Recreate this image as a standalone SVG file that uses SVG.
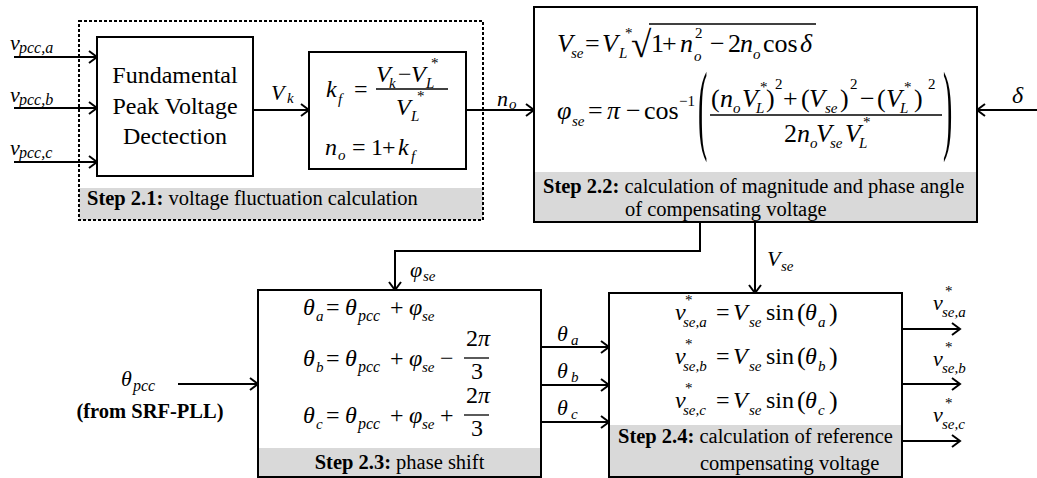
<svg xmlns="http://www.w3.org/2000/svg" width="1037" height="478" viewBox="0 0 1037 478" font-family="'Liberation Serif', 'Times New Roman', serif">
<defs>
<marker id="ah" markerWidth="12" markerHeight="14" refX="10" refY="7" orient="auto" markerUnits="userSpaceOnUse">
<path d="M2,1 L10,7 L2,13" fill="none" stroke="#000" stroke-width="2"/>
</marker>
<style>
text{font-family:'Liberation Serif','Times New Roman',serif;fill:#000}
.i{font-style:italic}
.m{font-size:24px}
.M{font-size:26px}
.s{font-size:15px}
.S{font-size:15px}
.lb{font-size:22px;font-style:italic}
.cap{font-size:20.5px}
.b{font-weight:bold}
.box{fill:#fff;stroke:#000;stroke-width:2}
.foot{fill:#d9d9d9;stroke:none}
.edge{fill:none;stroke:#000;stroke-width:2}
.bar{stroke:#000;stroke-width:1.3}
.big{font-size:100px}
</style>
</defs>
<rect width="1037" height="478" fill="#fff"/>

<g id="connectors">
<line class="edge" x1="14" y1="57" x2="97" y2="57" marker-end="url(#ah)"/>
<line class="edge" x1="14" y1="108" x2="97" y2="108" marker-end="url(#ah)"/>
<line class="edge" x1="14" y1="162" x2="97" y2="162" marker-end="url(#ah)"/>
<line class="edge" x1="253" y1="110" x2="309" y2="110" marker-end="url(#ah)"/>
<line class="edge" x1="466" y1="110" x2="534" y2="110" marker-end="url(#ah)"/>
<line class="edge" x1="1037" y1="110" x2="977" y2="110" marker-end="url(#ah)"/>
<polyline class="edge" points="700,222 700,251 395,251 395,290" marker-end="url(#ah)"/>
<line class="edge" x1="755" y1="222" x2="755" y2="293" marker-end="url(#ah)"/>
<line class="edge" x1="178" y1="384" x2="258" y2="384" marker-end="url(#ah)"/>
<line class="edge" x1="541" y1="347" x2="609" y2="347" marker-end="url(#ah)"/>
<line class="edge" x1="541" y1="385" x2="609" y2="385" marker-end="url(#ah)"/>
<line class="edge" x1="541" y1="422" x2="609" y2="422" marker-end="url(#ah)"/>
<line class="edge" x1="902" y1="329" x2="960" y2="329" marker-end="url(#ah)"/>
<line class="edge" x1="902" y1="384" x2="960" y2="384" marker-end="url(#ah)"/>
<line class="edge" x1="902" y1="441" x2="960" y2="441" marker-end="url(#ah)"/>
<text class="lb" x="10" y="50">v</text><text class="i" style="font-size:16px" x="19" y="53">pcc,a</text>
<text class="lb" x="10" y="102">v</text><text class="i" style="font-size:16px" x="19" y="105">pcc,b</text>
<text class="lb" x="10" y="155">v</text><text class="i" style="font-size:16px" x="19" y="158">pcc,c</text>
<text class="lb" x="271" y="100">V</text><text class="i s" x="287" y="103">k</text>
<text class="lb" x="497" y="106">n</text><text class="i s" x="509" y="109">o</text>
<text class="i m" x="1012" y="103">δ</text>
<text class="lb" x="410" y="277">φ</text><text class="i s" x="423" y="281">se</text>
<text class="lb" x="767" y="266">V</text><text class="i s" x="781" y="271">se</text>
<text class="lb" x="121" y="386">θ</text><text class="i" style="font-size:16px" x="133" y="391">pcc</text>
<text class="cap b" x="150" y="418" text-anchor="middle">(from SRF-PLL)</text>
<text class="lb" x="557" y="341">θ</text><text class="i s" x="571" y="345">a</text>
<text class="lb" x="557" y="378">θ</text><text class="i s" x="571" y="382">b</text>
<text class="lb" x="557" y="415">θ</text><text class="i s" x="571" y="419">c</text>
<text class="lb" x="933" y="310">v</text><text class="s" x="945" y="296">*</text><text class="i s" x="942" y="317">se,a</text>
<text class="lb" x="933" y="366">v</text><text class="s" x="945" y="352">*</text><text class="i s" x="942" y="373">se,b</text>
<text class="lb" x="933" y="422">v</text><text class="s" x="945" y="408">*</text><text class="i s" x="942" y="429">se,c</text>
</g>

<g id="step21">
<rect class="foot" x="79" y="188" width="404" height="32"/>
<rect x="79" y="21" width="404" height="199" fill="none" stroke="#000" stroke-width="2" stroke-dasharray="3 2"/>
<text class="cap" x="87" y="205"><tspan class="b">Step 2.1:</tspan> voltage fluctuation calculation</text>
</g>

<g id="fpvd">
<rect class="box" x="97" y="37" width="156" height="139"/>
<text class="m" x="175" y="83" text-anchor="middle">Fundamental</text>
<text class="m" x="175" y="114" text-anchor="middle">Peak Voltage</text>
<text class="m" x="175" y="144" text-anchor="middle">Dectection</text>
</g>

<g id="kf">
<rect class="box" x="309" y="52" width="157" height="117"/>
<text class="i m" x="326" y="97">k</text><text class="i s" x="338" y="104">f</text>
<text class="m" x="354" y="97">=</text>
<text class="i m" x="376" y="82">V</text><text class="i s" x="389" y="88">k</text>
<text class="m" x="398" y="82">−</text>
<text class="i m" x="411" y="82">V</text><text class="i s" x="426" y="88">L</text><text class="s" x="431" y="68">*</text>
<line class="bar" x1="376" y1="89" x2="448" y2="89"/>
<text class="i m" x="396" y="115">V</text><text class="i s" x="411" y="121">L</text><text class="s" x="417" y="101">*</text>
<text class="i m" x="325" y="155">n</text><text class="i s" x="338" y="160">o</text>
<text class="m" x="352" y="155">=</text>
<text class="m" x="371" y="155">1</text>
<text class="m" x="382" y="155">+</text>
<text class="i m" x="398" y="155">k</text><text class="i s" x="411" y="161">f</text>
</g>

<g id="step22">
<rect class="box" x="534" y="7" width="443" height="215"/>
<rect class="foot" x="535" y="172" width="441" height="49"/>
<line x1="534" y1="222" x2="977" y2="222" stroke="#000" stroke-width="2"/>
<text class="cap" x="543" y="193"><tspan class="b">Step 2.2:</tspan> calculation of magnitude and phase angle</text>
<text class="cap" x="625" y="216">of compensating voltage</text>
<text class="i M" x="557" y="52">V</text><text class="i S" x="571" y="58">se</text>
<text class="M" x="585" y="52">=</text>
<text class="i M" x="602" y="52">V</text><text class="i S" x="619" y="58">L</text><text class="S" x="625" y="38">*</text>
<text class="M" x="631" y="57" style="font-size:37px">√</text>
<line class="bar" x1="649" y1="24" x2="816" y2="24"/>
<text class="M" x="651" y="52">1</text>
<text class="M" x="662" y="52">+</text>
<text class="i M" x="680" y="52">n</text><text class="S" x="695" y="38">2</text><text class="i S" x="694" y="61">o</text>
<text class="M" x="710" y="52">−</text>
<text class="M" x="728" y="52">2</text>
<text class="i M" x="740" y="52">n</text><text class="i S" x="753" y="59">o</text>
<text class="M" x="763" y="52">cos</text>
<text class="i M" x="800" y="52">δ</text>
<text class="i M" x="557" y="119">φ</text><text class="i S" x="572" y="126">se</text>
<text class="M" x="588" y="119">=</text>
<text class="i M" x="607" y="119">π</text>
<text class="M" x="626" y="119">−</text>
<text class="M" x="644" y="119">cos</text><text class="S" x="679" y="106">−1</text>
<text class="big" transform="translate(698,141) scale(0.28,1)">(</text>
<text class="M" x="711" y="107">(</text>
<text class="i M" x="720" y="107">n</text><text class="i S" x="733" y="113">o</text>
<text class="i M" x="742" y="107">V</text><text class="i S" x="756" y="113">L</text><text class="S" x="760" y="92">*</text>
<text class="M" x="766" y="107">)</text><text class="S" x="775" y="89">2</text>
<text class="M" x="783" y="107">+</text>
<text class="M" x="801" y="107">(</text>
<text class="i M" x="809" y="107">V</text><text class="i S" x="825" y="113">se</text>
<text class="M" x="840" y="107">)</text><text class="S" x="850" y="89">2</text>
<text class="M" x="860" y="107">−</text>
<text class="M" x="877" y="107">(</text>
<text class="i M" x="886" y="107">V</text><text class="i S" x="900" y="113">L</text><text class="S" x="904" y="92">*</text>
<text class="M" x="914" y="107">)</text><text class="S" x="928" y="89">2</text>
<line class="bar" x1="710" y1="115" x2="942" y2="115"/>
<text class="M" x="784" y="142">2</text>
<text class="i M" x="797" y="142">n</text><text class="i S" x="810" y="148">o</text>
<text class="i M" x="816" y="142">V</text><text class="i S" x="830" y="148">se</text>
<text class="i M" x="845" y="142">V</text><text class="i S" x="859" y="148">L</text><text class="S" x="863" y="127">*</text>
<text class="big" transform="translate(943,141) scale(0.28,1)">)</text>
</g>

<g id="step23">
<rect class="box" x="258" y="290" width="283" height="187"/>
<rect class="foot" x="259" y="448" width="281" height="28"/>
<text class="cap" x="399.5" y="469" text-anchor="middle"><tspan class="b">Step 2.3:</tspan> phase shift</text>
<text class="i m" x="303" y="315">θ</text><text class="i s" x="316" y="321">a</text>
<text class="m" x="326" y="315">=</text>
<text class="i m" x="345" y="315">θ</text><text class="i" style="font-size:16px" x="358" y="321">pcc</text>
<text class="m" x="390" y="315">+</text>
<text class="i m" x="409" y="315">φ</text><text class="i s" x="422" y="321">se</text>
<text class="i m" x="303" y="366">θ</text><text class="i s" x="316" y="372">b</text>
<text class="m" x="326" y="366">=</text>
<text class="i m" x="345" y="366">θ</text><text class="i" style="font-size:16px" x="358" y="372">pcc</text>
<text class="m" x="390" y="366">+</text>
<text class="i m" x="409" y="366">φ</text><text class="i s" x="422" y="372">se</text>
<text class="m" x="440" y="366">−</text>
<text class="m" x="466" y="346">2<tspan class="i">π</tspan></text>
<line class="bar" x1="464" y1="358" x2="489" y2="358"/>
<text class="m" x="471" y="379">3</text>
<text class="i m" x="303" y="423">θ</text><text class="i s" x="316" y="429">c</text>
<text class="m" x="326" y="423">=</text>
<text class="i m" x="345" y="423">θ</text><text class="i" style="font-size:16px" x="358" y="429">pcc</text>
<text class="m" x="390" y="423">+</text>
<text class="i m" x="409" y="423">φ</text><text class="i s" x="422" y="429">se</text>
<text class="m" x="440" y="423">+</text>
<text class="m" x="466" y="403">2<tspan class="i">π</tspan></text>
<line class="bar" x1="464" y1="415" x2="489" y2="415"/>
<text class="m" x="471" y="436">3</text>
</g>

<g id="step24">
<rect class="box" x="609" y="293" width="293" height="184"/>
<rect class="foot" x="610" y="425" width="291" height="51"/>
<text class="cap" x="618" y="443"><tspan class="b">Step 2.4:</tspan> calculation of reference</text>
<text class="cap" x="700" y="470">compensating voltage</text>
<text class="i m" x="675" y="320">v</text><text class="s" x="685" y="305">*</text><text class="i s" x="683" y="327">se,a</text>
<text class="m" x="716" y="320">=</text>
<text class="i m" x="733" y="320">V</text><text class="i s" x="749" y="327">se</text>
<text class="m" x="766" y="320">sin</text>
<text class="m" x="797" y="321" style="font-size:26px">(</text>
<text class="i m" x="805" y="320">θ</text><text class="i s" x="818" y="327">a</text>
<text class="m" x="829" y="321" style="font-size:26px">)</text>
<text class="i m" x="675" y="364">v</text><text class="s" x="685" y="349">*</text><text class="i s" x="683" y="371">se,b</text>
<text class="m" x="716" y="364">=</text>
<text class="i m" x="733" y="364">V</text><text class="i s" x="749" y="371">se</text>
<text class="m" x="766" y="364">sin</text>
<text class="m" x="797" y="365" style="font-size:26px">(</text>
<text class="i m" x="805" y="364">θ</text><text class="i s" x="818" y="371">b</text>
<text class="m" x="829" y="365" style="font-size:26px">)</text>
<text class="i m" x="675" y="408">v</text><text class="s" x="685" y="393">*</text><text class="i s" x="683" y="415">se,c</text>
<text class="m" x="716" y="408">=</text>
<text class="i m" x="733" y="408">V</text><text class="i s" x="749" y="415">se</text>
<text class="m" x="766" y="408">sin</text>
<text class="m" x="797" y="409" style="font-size:26px">(</text>
<text class="i m" x="805" y="408">θ</text><text class="i s" x="818" y="415">c</text>
<text class="m" x="829" y="409" style="font-size:26px">)</text>
</g>
</svg>
